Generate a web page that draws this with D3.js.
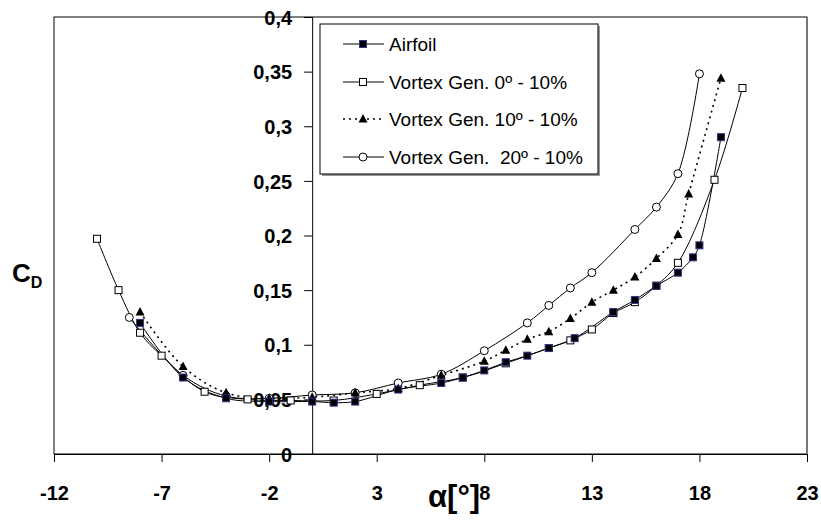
<!DOCTYPE html>
<html>
<head>
<meta charset="utf-8">
<script src="https://cdn.jsdelivr.net/npm/d3@7"></script>
<style>
  body { margin: 0; background: #fff; }
  text { font-family: "Liberation Sans", Arial, sans-serif; }
</style>
</head>
<body>
<div id="chart"></div>
<script>
// values
const airfoilAlpha = [-8, -6, -4, -2, 0, 1, 2, 4, 6, 7, 8, 9, 10, 11, 12.2, 14, 15, 16, 17, 17.7, 18, 19];
const airfoilCd = [0.120, 0.070, 0.051, 0.048, 0.048, 0.047, 0.048, 0.059, 0.065, 0.070, 0.0765, 0.084, 0.090, 0.097, 0.106, 0.130, 0.141, 0.154, 0.166, 0.180, 0.191, 0.290];

const vg0Alpha = [-10, -9, -8, -7, -5, -3, -1, 1, 3, 5, 7, 9, 11, 12, 13, 14, 15, 16, 17, 18.7, 20];
const vg0Cd = [0.197, 0.150, 0.111, 0.090, 0.057, 0.050, 0.049, 0.049, 0.055, 0.063, 0.070, 0.083, 0.097, 0.104, 0.114, 0.129, 0.139, 0.154, 0.175, 0.251, 0.335];

const vg10Alpha = [-8, -6, -4, -2, 0, 2, 4, 6, 8, 9, 10, 11, 12, 13, 14, 15, 16, 17, 17.5, 19];
const vg10Cd = [0.130, 0.080, 0.056, 0.051, 0.052, 0.056, 0.060, 0.072, 0.085, 0.095, 0.105, 0.112, 0.124, 0.139, 0.150, 0.162, 0.179, 0.201, 0.238, 0.344];

const vg20Alpha = [-8.5, -6, -4, -2, 0, 2, 4, 6, 8, 10, 11, 12, 13, 15, 16, 17, 18];
const vg20Cd = [0.125, 0.072, 0.053, 0.051, 0.054, 0.056, 0.065, 0.073, 0.0945, 0.120, 0.136, 0.152, 0.166, 0.2055, 0.226, 0.2566, 0.348];

const xTicks = [-12, -7, -2, 3, 8, 13, 18, 23];
const yTicks = [0, 0.05, 0.1, 0.15, 0.2, 0.25, 0.3, 0.35, 0.4];
const seriesNames = ['Airfoil', 'Vortex Gen. 0º - 10%', 'Vortex Gen. 10º - 10%', 'Vortex Gen.  20º - 10%'];

const width = 821, height = 525;
const plot = { left: 54, right: 807, top: 17, bottom: 454 };

const svg = d3.select('#chart').append('svg')
    .attr('width', width)
    .attr('height', height);

const x = d3.scaleLinear().domain([-12, 23]).range([plot.left, plot.right]);
const y = d3.scaleLinear().domain([0, 0.4]).range([plot.bottom, plot.top]);

const zip = (a, b) => a.map((v, i) => [v, b[i]]);

const series = [
    { name: seriesNames[0], pts: zip(airfoilAlpha, airfoilCd), marker: 'filledSquare', dash: null },
    { name: seriesNames[1], pts: zip(vg0Alpha, vg0Cd), marker: 'hollowSquare', dash: null },
    { name: seriesNames[2], pts: zip(vg10Alpha, vg10Cd), marker: 'triangle', dash: '2,4' },
    { name: seriesNames[3], pts: zip(vg20Alpha, vg20Cd), marker: 'circle', dash: null }
];

// plot frame
svg.append('rect')
    .attr('x', plot.left).attr('y', plot.top)
    .attr('width', plot.right - plot.left).attr('height', plot.bottom - plot.top)
    .attr('fill', 'none')
    .attr('stroke', '#000')
    .attr('stroke-width', 1);
svg.append('line')
    .attr('x1', plot.right).attr('x2', plot.right)
    .attr('y1', plot.top).attr('y2', plot.bottom)
    .attr('stroke', '#777').attr('stroke-width', 2);

// x axis at bottom
const xAxis = svg.append('g')
    .attr('transform', `translate(0,${plot.bottom})`)
    .call(d3.axisBottom(x).tickValues(xTicks).tickSize(8).tickFormat(d => String(d)));
xAxis.select('.domain').attr('stroke', '#000');
xAxis.selectAll('text')
    .attr('dy', null)
    .attr('y', 46)
    .style('font-size', '20px')
    .style('font-weight', 'bold')
    .style('font-family', '"Liberation Sans", Arial, sans-serif');

// y axis at alpha = 0
const yAxis = svg.append('g')
    .attr('transform', `translate(${x(0)},0)`)
    .call(d3.axisLeft(y).tickValues(yTicks).tickSize(8).tickFormat(d => String(d).replace('.', ',')));
yAxis.select('.domain').attr('stroke', '#000');
yAxis.selectAll('text')
    .attr('x', -20)
    .attr('dy', '0.36em')
    .style('font-size', '20px')
    .style('font-weight', 'bold')
    .style('font-family', '"Liberation Sans", Arial, sans-serif');

// lines
const line = d3.line()
    .x(d => x(d[0]))
    .y(d => y(d[1]))
    .curve(d3.curveCatmullRom.alpha(0.5));

svg.selectAll('path.series')
    .data(series)
    .enter().append('path')
    .attr('class', 'series')
    .attr('d', d => line(d.pts))
    .attr('fill', 'none')
    .attr('stroke', '#000')
    .attr('stroke-width', d => d.dash ? 1.6 : 1)
    .attr('stroke-dasharray', d => d.dash);

function drawMarker(g, type) {
    if (type === 'filledSquare') {
        g.append('rect').attr('x', -3.5).attr('y', -3.5).attr('width', 7).attr('height', 7)
            .attr('fill', '#000').attr('stroke', '#33338a').attr('stroke-width', 1);
    } else if (type === 'hollowSquare') {
        g.append('rect').attr('x', -3.5).attr('y', -3.5).attr('width', 7).attr('height', 7)
            .attr('fill', '#fff').attr('stroke', '#000').attr('stroke-width', 1);
    } else if (type === 'triangle') {
        g.append('path').attr('d', 'M0,-5L4.5,3.5L-4.5,3.5Z').attr('fill', '#000');
    } else {
        g.append('circle').attr('r', 4).attr('fill', '#fff').attr('stroke', '#000').attr('stroke-width', 1);
    }
}

// markers: draw order so filled ones sit on top like the reference
const markerOrder = [3, 1, 2, 0];
markerOrder.forEach(i => {
    const s = series[i];
    svg.append('g').selectAll('g')
        .data(s.pts)
        .enter().append('g')
        .attr('transform', d => `translate(${x(d[0])},${y(d[1])})`)
        .each(function () { drawMarker(d3.select(this), s.marker); });
});

// legend
const lg = svg.append('g');
lg.append('rect')
    .attr('x', 322).attr('y', 26).attr('width', 278).attr('height', 150)
    .attr('fill', '#999');
lg.append('rect')
    .attr('x', 320).attr('y', 24).attr('width', 278).attr('height', 150)
    .attr('fill', '#fff').attr('stroke', '#000').attr('stroke-width', 1);
const rowY = [44, 82, 119, 157];
series.forEach((s, i) => {
    const row = lg.append('g').attr('transform', `translate(0,${rowY[i]})`);
    row.append('line')
        .attr('x1', 343).attr('x2', 384).attr('y1', 0).attr('y2', 0)
        .attr('stroke', '#000')
        .attr('stroke-width', s.dash ? 1.6 : 1)
        .attr('stroke-dasharray', s.dash);
    drawMarker(row.append('g').attr('transform', 'translate(363,0)'), s.marker);
    row.append('text')
        .attr('x', 389).attr('y', 0).attr('dy', '0.36em')
        .style('font-size', '19px')
        .style('white-space', 'pre')
        .attr('xml:space', 'preserve')
        .text(s.name);
});

// axis titles
const cd = svg.append('text')
    .attr('x', 12).attr('y', 282)
    .style('font-size', '26px')
    .style('font-weight', 'bold');
cd.append('tspan').text('C');
cd.append('tspan').attr('dy', 6).style('font-size', '16px').text('D');

svg.append('text')
    .attr('x', 428).attr('y', 507)
    .style('font-size', '31px')
    .style('font-weight', 'bold')
    .text('α[°]');
</script>
</body>
</html>
